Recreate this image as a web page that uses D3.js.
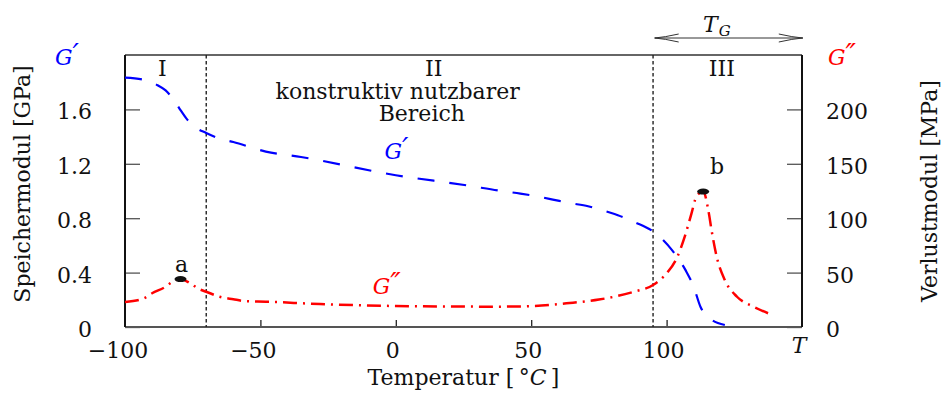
<!DOCTYPE html>
<html lang="de">
<head>
  <meta charset="UTF-8">
  <title>Speicher- und Verlustmodul</title>
  <style>
    body {
      margin: 0;
      background: #fff;
    }

    svg text {
      font-family: "DejaVu Serif", serif;
      font-size: 22px;
      fill: #111;
    }

    .it {
      font-style: italic;
    }

    .prime {
      font-family: "DejaVu Sans", sans-serif;
      font-style: italic;
      font-size: 28px;
    }
  </style>
</head>
<body>
  <svg id="chart" width="950" height="393"></svg>

  <script src="https://d3js.org/d3.v7.min.js"></script>
  <script>
    // Speichermodul G' (GPa)
    const storageTemps = [-100, -93, -88, -85, -82, -80, -77, -75, -70, -65, -60, -48, -35, 0, 26, 39, 46, 52, 58, 64, 71, 77, 82, 88, 96, 102, 107, 110, 112.5, 116, 121.5];
    const storageGPa = [1.833, 1.818, 1.778, 1.74, 1.67, 1.61, 1.525, 1.483, 1.426, 1.385, 1.36, 1.29, 1.25, 1.116, 1.042, 1.0, 0.981, 0.961, 0.937, 0.912, 0.888, 0.854, 0.822, 0.773, 0.688, 0.565, 0.418, 0.296, 0.149, 0.064, 0.015];

    // Verlustmodul G'' (MPa)
    const lossTemps = [-100, -93, -90, -85, -82, -79.5, -76, -72.5, -70, -65, -60, -56, -48, -28, 0, 38, 51, 63, 75, 88, 95, 100, 103.7, 106.7, 109.2, 111, 113.5, 115.4, 116.6, 118.5, 121.5, 126, 132, 137.5];
    const lossMPa = [23, 26.4, 31, 37, 42.5, 44.1, 40.2, 34.7, 32.4, 27.8, 25.5, 23.9, 23.3, 21.1, 19.3, 18.7, 19.3, 21.8, 25.2, 32.5, 38.6, 49.3, 63.1, 83, 104.5, 119.8, 124.5, 107.5, 89, 64.6, 43.2, 27.8, 18.7, 12.6];

    // Peaks a and b on G''
    const peakLabels = ["a", "b"];
    const peakTemps = [-79.5, 113.5];
    const peakValues = [44.1, 124.5];

    // Region borders and labels
    const regionBounds = [-70, 95];
    const regionNames = ["I", "II", "III"];

    // Ticks
    const xTicks = [-100, -50, 0, 50, 100, 150];
    const xTickLabels = ["\u2212100", "\u221250", "0", "50", "100", "T"];
    const leftTicks = [0, 0.4, 0.8, 1.2, 1.6];
    const leftTickLabels = ["0", "0.4", "0.8", "1.2", "1.6"];
    const rightTicks = [0, 50, 100, 150, 200];

    const svg = d3.select("#chart");
    const margin = { top: 55, right: 148, bottom: 66, left: 125 };
    const width = 950 - margin.left - margin.right;
    const height = 393 - margin.top - margin.bottom;

    const g = svg.append("g")
      .attr("transform", `translate(${margin.left},${margin.top})`);

    const x = d3.scaleLinear().domain([-100, 150]).range([0, width]);
    const yLeft = d3.scaleLinear().domain([0, 2]).range([height, 0]);
    const yRight = d3.scaleLinear().domain([0, 250]).range([height, 0]);

    // x axis: ticks point inside, labels below
    const xAxis = g.append("g")
      .attr("transform", `translate(0,${height})`)
      .call(d3.axisBottom(x).tickValues(xTicks).tickSize(-7).tickFormat(""));
    xAxis.select(".domain").remove();
    xAxis.selectAll(".tick line").attr("stroke", "#222").attr("stroke-width", 1.3);
    xAxis.selectAll(".tick").filter(d => d === -100 || d === 150).select("line").remove();
    xTicks.forEach((d, i) => {
      const t = g.append("text")
        .attr("x", x(d) + (d < 0 ? -7 : -3))
        .attr("y", height + 31)
        .attr("text-anchor", "middle")
        .text(xTickLabels[i]);
      if (xTickLabels[i] === "T") t.attr("class", "it").attr("x", x(d) - 3).attr("y", height + 26);
    });

    // left axis
    const leftAxis = g.append("g")
      .call(d3.axisLeft(yLeft).tickValues(leftTicks).tickSize(-15).tickFormat(""));
    leftAxis.select(".domain").remove();
    leftAxis.selectAll(".tick line").attr("stroke", "#555").attr("stroke-width", 1.3);
    leftTicks.forEach((d, i) => {
      g.append("text")
        .attr("x", -33)
        .attr("y", yLeft(d) + 10)
        .attr("text-anchor", "end")
        .text(leftTickLabels[i]);
    });

    // right axis
    const rightAxis = g.append("g")
      .attr("transform", `translate(${width},0)`)
      .call(d3.axisRight(yRight).tickValues(rightTicks).tickSize(-15).tickFormat(""));
    rightAxis.select(".domain").remove();
    rightAxis.selectAll(".tick line").attr("stroke", "#555").attr("stroke-width", 1.3);
    rightTicks.forEach(d => {
      g.append("text")
        .attr("x", width + 24)
        .attr("y", yRight(d) + 10)
        .text(d);
    });

    // frame
    g.append("line").attr("x1", 0).attr("x2", width).attr("y1", 0).attr("y2", 0)
      .attr("stroke", "#333").attr("stroke-width", 1.4);
    g.append("line").attr("x1", 0).attr("x2", width).attr("y1", height).attr("y2", height)
      .attr("stroke", "#555").attr("stroke-width", 2);
    g.append("line").attr("x1", 0).attr("x2", 0).attr("y1", 0).attr("y2", height)
      .attr("stroke", "#111").attr("stroke-width", 2);
    g.append("line").attr("x1", width).attr("x2", width).attr("y1", 0).attr("y2", height)
      .attr("stroke", "#111").attr("stroke-width", 2);

    // region borders
    regionBounds.forEach(t => {
      g.append("line")
        .attr("x1", x(t)).attr("x2", x(t))
        .attr("y1", 0).attr("y2", height)
        .attr("stroke", "#222")
        .attr("stroke-width", 1.4)
        .attr("stroke-dasharray", "3.5,2.5");
    });

    // region labels
    const regionTemps = [-86.2, 14, 120.4];
    regionNames.forEach((n, i) => {
      g.append("text")
        .attr("x", x(regionTemps[i]))
        .attr("y", 21)
        .attr("text-anchor", "middle")
        .text(n);
    });
    g.append("text").attr("x", x(0.7)).attr("y", 44).attr("text-anchor", "middle").text("konstruktiv nutzbarer");
    g.append("text").attr("x", x(9.6)).attr("y", 66).attr("text-anchor", "middle").text("Bereich");

    // curves
    const storageData = storageTemps.map((t, i) => ({ t, v: storageGPa[i] }));
    const lossData = lossTemps.map((t, i) => ({ t, v: lossMPa[i] }));

    const storageLine = d3.line()
      .x(d => x(d.t))
      .y(d => yLeft(d.v))
      .curve(d3.curveMonotoneX);

    const lossLine = d3.line()
      .x(d => x(d.t))
      .y(d => yRight(d.v))
      .curve(d3.curveMonotoneX);

    g.append("path")
      .datum(storageData)
      .attr("fill", "none")
      .attr("stroke", "#0000ff")
      .attr("stroke-width", 2.2)
      .attr("stroke-dasharray", "17,15")
      .attr("d", storageLine);

    g.append("path")
      .datum(lossData)
      .attr("fill", "none")
      .attr("stroke", "#ff0000")
      .attr("stroke-width", 2.5)
      .attr("stroke-dasharray", "14,6,2,6")
      .attr("d", lossLine);

    // peak markers
    peakLabels.forEach((lab, i) => {
      g.append("ellipse")
        .attr("cx", x(peakTemps[i]))
        .attr("cy", yRight(peakValues[i]))
        .attr("rx", 6)
        .attr("ry", 3)
        .attr("fill", "#111");
      g.append("text")
        .attr("x", x(peakTemps[i]) + (i === 0 ? 1 : 14))
        .attr("y", yRight(peakValues[i]) - (i === 0 ? 7 : 18))
        .attr("text-anchor", "middle")
        .text(lab);
    });

    // curve names
    function modulus(parent, px, py, primes, color) {
      const t = parent.append("text")
        .attr("x", px).attr("y", py)
        .attr("class", "it")
        .style("fill", color);
      t.append("tspan").text("G");
      t.append("tspan").attr("class", "prime").attr("dy", -1).attr("dx", 0).text(primes);
      return t;
    }
    modulus(g, x(-4.2), 104, "\u2032", "#0000ff");
    modulus(g, x(-8.5), 239, "\u2033", "#ff0000");
    modulus(svg, 55, 65, "\u2032", "#0000ff");
    modulus(svg, 828, 65, "\u2033", "#ff0000");

    // axis titles
    const xTitle = svg.append("text")
      .attr("x", margin.left + width / 2)
      .attr("y", 385)
      .attr("text-anchor", "middle");
    xTitle.append("tspan").text("Temperatur [\u2009\u00b0");
    xTitle.append("tspan").attr("class", "it").text("C");
    xTitle.append("tspan").text("\u2009]");

    svg.append("text")
      .attr("transform", "translate(30,184) rotate(-90)")
      .attr("text-anchor", "middle")
      .text("Speichermodul [GPa]");

    svg.append("text")
      .attr("transform", "translate(937,191) rotate(-90)")
      .attr("text-anchor", "middle")
      .text("Verlustmodul [MPa]");

    // glass transition arrow T_G
    const ay = 38;
    const ax0 = margin.left + x(95.6);
    const ax1 = margin.left + x(150.3);
    svg.append("line")
      .attr("x1", ax0).attr("x2", ax1)
      .attr("y1", ay).attr("y2", ay)
      .attr("stroke", "#333").attr("stroke-width", 1);
    svg.append("path")
      .attr("d", `M${ax0 + 24},${ay - 4} Q${ax0 + 10},${ay - 0.8} ${ax0},${ay} Q${ax0 + 10},${ay + 0.8} ${ax0 + 24},${ay + 4}`)
      .attr("fill", "none").attr("stroke", "#333").attr("stroke-width", 1);
    svg.append("path")
      .attr("d", `M${ax1 - 24},${ay - 4} Q${ax1 - 10},${ay - 0.8} ${ax1},${ay} Q${ax1 - 10},${ay + 0.8} ${ax1 - 24},${ay + 4}`)
      .attr("fill", "none").attr("stroke", "#333").attr("stroke-width", 1);
    const tg = svg.append("text")
      .attr("x", 703)
      .attr("y", 32)
      .attr("class", "it");
    tg.append("tspan").text("T");
    tg.append("tspan").attr("dy", 4).attr("dx", 1).style("font-size", "15px").text("G");
  </script>
</body>
</html>
